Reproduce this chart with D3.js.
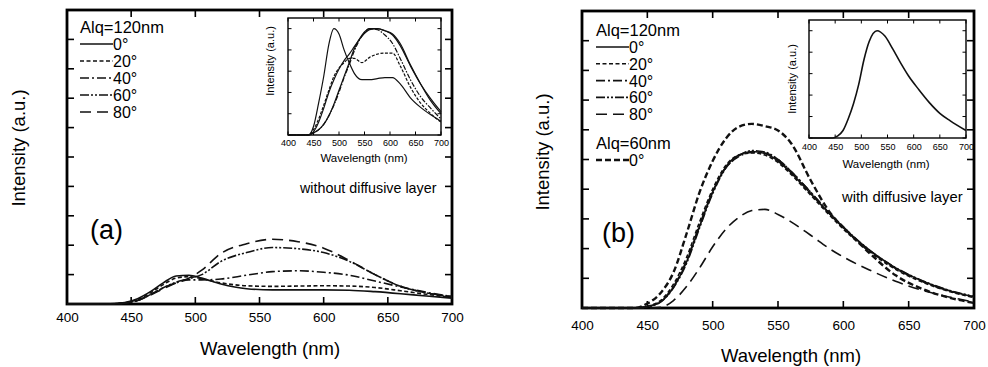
<!DOCTYPE html>
<html>
<head>
<meta charset="utf-8">
<title>Angular EL spectra</title>
<script src="https://d3js.org/d3.v7.min.js"></script>
<style>
  body { margin: 0; background: #fff; }
  svg text { font-family: "Liberation Sans", Arial, sans-serif; fill: #000; }
  svg text.narrow { font-family: "Liberation Sans Narrow", "Liberation Sans", Arial, sans-serif; }
  .domain { display: none; }
</style>
</head>
<body>
<svg id="chart" width="988" height="367"></svg>
<script>
// ---- data ----
var angleLabels = ["0°", "20°", "40°", "60°", "80°"];
var xTicks = [400, 450, 500, 550, 600, 650, 700];

// (a) without diffusive layer
var wlA = [400, 430, 445, 455, 465, 475, 485, 495, 505, 520, 540, 560, 580, 600, 620, 640, 660, 680, 700];
var a0  = [0, 0, 0.05, 0.18, 0.42, 0.72, 0.95, 0.98, 0.88, 0.68, 0.52, 0.48, 0.48, 0.48, 0.47, 0.42, 0.35, 0.27, 0.20];
var a20 = [0, 0, 0.04, 0.15, 0.38, 0.66, 0.88, 0.93, 0.86, 0.72, 0.62, 0.60, 0.61, 0.62, 0.61, 0.56, 0.45, 0.33, 0.22];
var a40 = [0, 0, 0.03, 0.12, 0.32, 0.55, 0.72, 0.82, 0.82, 0.85, 0.98, 1.10, 1.13, 1.08, 0.98, 0.78, 0.58, 0.40, 0.25];
var a60 = [0, 0, 0.03, 0.12, 0.32, 0.55, 0.74, 0.86, 1.00, 1.45, 1.75, 1.92, 1.88, 1.75, 1.45, 1.00, 0.60, 0.38, 0.25];
var a80 = [0, 0, 0.03, 0.12, 0.30, 0.52, 0.72, 0.88, 1.15, 1.72, 2.05, 2.20, 2.12, 1.90, 1.48, 1.00, 0.60, 0.38, 0.25];

// (a) inset, normalised
var wlAi = [400, 440, 450, 460, 470, 480, 490, 500, 510, 520, 530, 545, 560, 575, 590, 605, 620, 640, 660, 680, 700];
var ai0  = [0, 0, 0.08, 0.30, 0.55, 0.85, 1.00, 0.95, 0.80, 0.68, 0.58, 0.52, 0.52, 0.53, 0.54, 0.54, 0.48, 0.35, 0.26, 0.19, 0.13];
var ai20 = [0, 0, 0.05, 0.15, 0.28, 0.42, 0.55, 0.63, 0.68, 0.72, 0.72, 0.68, 0.73, 0.76, 0.77, 0.77, 0.65, 0.45, 0.30, 0.20, 0.12];
var ai40 = [0, 0, 0.03, 0.12, 0.25, 0.40, 0.52, 0.62, 0.70, 0.76, 0.83, 0.93, 0.99, 1.00, 0.98, 0.95, 0.86, 0.66, 0.48, 0.32, 0.20];
var ai60 = [0, 0, 0.02, 0.05, 0.10, 0.18, 0.28, 0.40, 0.54, 0.66, 0.79, 0.93, 1.00, 0.99, 0.94, 0.86, 0.72, 0.52, 0.36, 0.25, 0.15];
var ai80 = [0, 0, 0.02, 0.05, 0.10, 0.18, 0.29, 0.42, 0.55, 0.68, 0.81, 0.94, 1.00, 1.00, 0.98, 0.94, 0.84, 0.65, 0.48, 0.34, 0.22];

// (b) with diffusive layer
var wlB = [400, 440, 450, 460, 470, 480, 490, 500, 510, 520, 530, 540, 550, 560, 575, 590, 605, 620, 640, 660, 680, 700];
var b0  = [0, 0, 0.05, 0.20, 0.70, 1.55, 2.75, 3.90, 4.75, 5.15, 5.27, 5.20, 4.95, 4.55, 3.85, 3.15, 2.50, 1.95, 1.35, 0.92, 0.60, 0.38];
var b20 = [0, 0, 0.06, 0.25, 0.80, 1.70, 2.90, 4.00, 4.80, 5.15, 5.22, 5.15, 4.90, 4.50, 3.80, 3.10, 2.45, 1.90, 1.30, 0.88, 0.57, 0.35];
var b40 = [0, 0, 0.05, 0.22, 0.72, 1.60, 2.80, 3.92, 4.72, 5.10, 5.24, 5.22, 5.00, 4.60, 3.90, 3.15, 2.50, 1.93, 1.33, 0.90, 0.59, 0.37];
var b60 = [0, 0, 0.04, 0.20, 0.68, 1.50, 2.70, 3.85, 4.70, 5.12, 5.30, 5.25, 5.00, 4.60, 3.90, 3.18, 2.52, 1.95, 1.36, 0.93, 0.61, 0.39];
var b80 = [0, 0, 0, 0.02, 0.25, 0.72, 1.35, 2.06, 2.65, 3.05, 3.28, 3.32, 3.15, 2.90, 2.45, 1.98, 1.60, 1.28, 0.90, 0.60, 0.38, 0.20];
var b60nm = [0, 0, 0.15, 0.50, 1.20, 2.50, 3.90, 4.95, 5.70, 6.10, 6.20, 6.12, 5.98, 5.55, 4.30, 3.20, 2.50, 1.85, 1.10, 0.65, 0.36, 0.17];

// (b) inset, normalised
var wlBi = [400, 445, 455, 465, 475, 485, 495, 505, 515, 530, 545, 560, 575, 590, 610, 630, 650, 670, 700];
var bi   = [0, 0, 0.02, 0.07, 0.18, 0.32, 0.50, 0.73, 0.90, 1.00, 0.95, 0.83, 0.70, 0.58, 0.45, 0.33, 0.23, 0.16, 0.07];

// line styles per angle
var dashes = [null, "4,2.5", "9,3,2,3", "9,2,2,2,2,2", "11,6"];

var svg = d3.select("#chart");

function zip(xs, ys) { return xs.map(function(x, i) { return [x, ys[i]]; }); }

function frame(g, x, y, opts) {
  var x0 = x.range()[0], x1 = x.range()[1], y0 = y.range()[1], y1 = y.range()[0];
  var tl = opts.tick;
  // tick labels on the bottom
  g.append("g").attr("transform", "translate(0," + y1 + ")")
    .call(d3.axisBottom(x).tickValues(xTicks).tickSize(0).tickPadding(opts.pad).tickFormat(d3.format("d")))
    .call(function(s) {
      s.attr("font-family", null);
      s.selectAll("text").attr("font-size", opts.font).attr("class", opts.narrow ? "narrow" : null);
    });
  // inward ticks on all four sides
  var tg = g.append("g").attr("stroke", "#000").attr("stroke-width", opts.tw);
  xTicks.forEach(function(v) {
    tg.append("line").attr("x1", x(v)).attr("x2", x(v)).attr("y1", y1).attr("y2", y1 - tl);
    tg.append("line").attr("x1", x(v)).attr("x2", x(v)).attr("y1", y0).attr("y2", y0 + tl);
  });
  y.ticks(opts.yticks).forEach(function(v) {
    tg.append("line").attr("x1", x0).attr("x2", x0 + tl).attr("y1", y(v)).attr("y2", y(v));
    tg.append("line").attr("x1", x1).attr("x2", x1 - tl).attr("y1", y(v)).attr("y2", y(v));
  });
  g.append("rect").attr("x", x0).attr("y", y0).attr("width", x1 - x0).attr("height", y1 - y0)
    .attr("fill", "none").attr("stroke", "#000").attr("stroke-width", opts.sw);
}

function curves(g, x, y, series) {
  var line = d3.line().x(function(d) { return x(d[0]); }).y(function(d) { return y(d[1]); })
    .curve(d3.curveMonotoneX);
  series.forEach(function(s) {
    g.append("path").datum(zip(s.x, s.y)).attr("d", line)
      .attr("fill", "none").attr("stroke", "#111").attr("stroke-width", s.w || 1.6)
      .attr("stroke-dasharray", s.dash).attr("stroke-linejoin", "round");
  });
}

function legend(g, lx, entries) {
  entries.forEach(function(e) {
    if (e.title) {
      g.append("text").attr("x", lx).attr("y", e.y + 6).attr("font-size", 16.5).text(e.title);
      return;
    }
    g.append("line").attr("x1", lx).attr("x2", lx + 33).attr("y1", e.y).attr("y2", e.y)
      .attr("stroke", "#111").attr("stroke-width", e.w || 1.6).attr("stroke-dasharray", e.dash);
    g.append("text").attr("x", lx + 33).attr("y", e.y + 6).attr("font-size", 16).text(e.label);
  });
}

// ---------------- panel (a) ----------------
var gA = svg.append("g");
var xA = d3.scaleLinear().domain([400, 700]).range([67, 452]);
var yA = d3.scaleLinear().domain([0, 10]).range([304, 10]);
frame(gA, xA, yA, { tick: 7, tw: 1.6, pad: 8, font: 13.5, yticks: 10, sw: 2.8 });
curves(gA, xA, yA, [a0, a20, a40, a60, a80].map(function(v, i) {
  return { x: wlA, y: v, dash: dashes[i] };
}));
gA.append("text").attr("x", 270).attr("y", 354.5).attr("text-anchor", "middle")
  .attr("font-size", 18.5).text("Wavelength (nm)");
gA.append("text").attr("transform", "translate(24.5,148) rotate(-90)").attr("text-anchor", "middle")
  .attr("font-size", 18.5).text("Intensity (a.u.)");
gA.append("text").attr("x", 90).attr("y", 239).attr("font-size", 27).text("(a)");
gA.append("text").attr("x", 300).attr("y", 193).attr("font-size", 14.3).text("without diffusive layer");
legend(gA, 80, [{ title: "Alq=120nm", y: 27 }].concat(angleLabels.map(function(l, i) {
  return { label: l, y: 44 + i * 17, dash: dashes[i] };
})));

// inset (a)
var xAi = d3.scaleLinear().domain([400, 700]).range([288, 441]);
var yAi = d3.scaleLinear().domain([0, 1.1]).range([135, 18]);
var gAi = svg.append("g");
frame(gAi, xAi, yAi, { tick: 3.5, tw: 1, pad: 5, font: 9, yticks: 5, sw: 1.4, narrow: true });
curves(gAi, xAi, yAi, [ai0, ai20, ai40, ai60, ai80].map(function(v, i) {
  return { x: wlAi, y: v, dash: i === 1 ? "3,1.5" : (i === 3 ? "5,1.5,1.5,1.5" : null), w: 1.2 };
}));
gAi.append("text").attr("class", "narrow").attr("x", 364).attr("y", 162).attr("text-anchor", "middle")
  .attr("font-size", 11.5).text("Wavelength (nm)");
gAi.append("text").attr("class", "narrow").attr("transform", "translate(274,61) rotate(-90)")
  .attr("text-anchor", "middle").attr("font-size", 11).text("Intensity (a.u.)");

// ---------------- panel (b) ----------------
var gB = svg.append("g");
var xB = d3.scaleLinear().domain([400, 700]).range([582, 974]);
var yB = d3.scaleLinear().domain([0, 10]).range([308, 11]);
frame(gB, xB, yB, { tick: 7, tw: 1.6, pad: 12, font: 13.5, yticks: 10, sw: 2.8 });
curves(gB, xB, yB, [b0, b20, b40, b60, b80].map(function(v, i) {
  return { x: wlB, y: v, dash: dashes[i] };
}).concat([{ x: wlB, y: b60nm, dash: "6,3", w: 2.4 }]));
gB.append("text").attr("x", 791).attr("y", 361.5).attr("text-anchor", "middle")
  .attr("font-size", 18.5).text("Wavelength (nm)");
gB.append("text").attr("transform", "translate(548.5,152) rotate(-90)").attr("text-anchor", "middle")
  .attr("font-size", 18.5).text("Intensity (a.u.)");
gB.append("text").attr("x", 602).attr("y", 242).attr("font-size", 27).text("(b)");
gB.append("text").attr("x", 842).attr("y", 202).attr("font-size", 14.8).text("with diffusive layer");
legend(gB, 596, [{ title: "Alq=120nm", y: 30 }].concat(angleLabels.map(function(l, i) {
  return { label: l, y: 47 + i * 16.8, dash: dashes[i] };
})).concat([{ title: "Alq=60nm", y: 143 }, { label: "0°", y: 160, dash: "6,3", w: 2.4 }]));

// inset (b)
var xBi = d3.scaleLinear().domain([400, 700]).range([809, 966]);
var yBi = d3.scaleLinear().domain([0, 1.1]).range([138, 20]);
var gBi = svg.append("g");
frame(gBi, xBi, yBi, { tick: 3.5, tw: 1, pad: 6, font: 9, yticks: 5, sw: 1.4, narrow: true });
curves(gBi, xBi, yBi, [{ x: wlBi, y: bi, dash: null, w: 1.6 }]);
gBi.append("text").attr("class", "narrow").attr("x", 886).attr("y", 168).attr("text-anchor", "middle")
  .attr("font-size", 11.5).text("Wavelength (nm)");
gBi.append("text").attr("class", "narrow").attr("transform", "translate(796,79) rotate(-90)")
  .attr("text-anchor", "middle").attr("font-size", 11).text("Intensity (a.u.)");
</script>
</body>
</html>
